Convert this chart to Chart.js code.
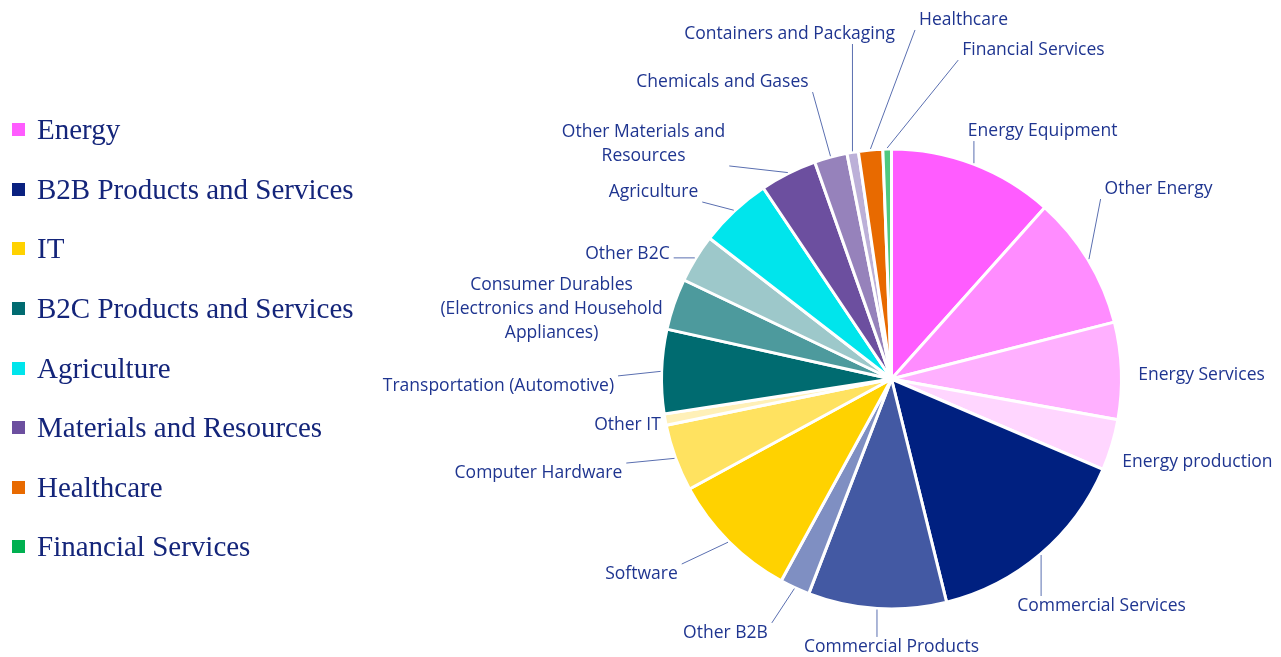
<!DOCTYPE html>
<html lang="en">
<head>
    <meta charset="UTF-8">
    <title>Sector breakdown</title>
    <script src="https://cdn.jsdelivr.net/npm/chart.js"></script>
    <style>
        body{
            margin: 0;
            background: #fff;
        }
        .wrap{
            position: relative;
            width: 1281px;
            height: 657px;
        }
        #legend{
            position: absolute;
            left: 12px;
            top: 100px;
            margin: 0;
            padding: 0;
            list-style: none;
            font-family: "Liberation Serif", "DejaVu Serif", serif;
            font-size: 29px;
            color: #14257a;
        }
        #legend li{
            height: 59.6px;
            display: flex;
            align-items: center;
            white-space: nowrap;
        }
        #legend span{
            display: inline-block;
            width: 13px;
            height: 13px;
            margin-right: 12px;
        }
    </style>
</head>
<body>
    <div class="wrap">
        <ul id="legend"></ul>
        <canvas id="sectorPie" width="1281" height="657"></canvas>
    </div>

    <script>
        // Sectors (slices), clockwise from 12 o'clock
        const sectors = [
            'Energy Equipment', 'Other Energy', 'Energy Services', 'Energy production',
            'Commercial Services', 'Commercial Products', 'Other B2B',
            'Software', 'Computer Hardware', 'Other IT',
            'Transportation (Automotive)', 'Consumer Durables (Electronics and Household Appliances)', 'Other B2C',
            'Agriculture',
            'Other Materials and Resources', 'Chemicals and Gases', 'Containers and Packaging',
            'Healthcare',
            'Financial Services'
        ];
        const shares = [11.6, 9.4, 6.8, 3.6, 14.7, 9.7, 2.1, 9.1, 4.7, 0.8, 5.9, 3.6, 3.4, 5.1, 4.0, 2.3, 0.8, 1.7, 0.6];
        const sliceColors = [
            '#ff5cff', '#ff8cff', '#ffb0ff', '#ffd6ff',
            '#002080', '#4359a3', '#7f8fc2',
            '#ffd200', '#ffe260', '#fff0b8',
            '#006b70', '#4d9a9d', '#9dc8ca',
            '#00e5ec',
            '#6c4f9f', '#9682bb', '#bcb0d8',
            '#e86a00',
            '#4fc97f'
        ];

        // Sector groups for the legend
        const groups = ['Energy', 'B2B Products and Services', 'IT', 'B2C Products and Services',
            'Agriculture', 'Materials and Resources', 'Healthcare', 'Financial Services'];
        const groupColors = ['#ff5cff', '#0a2180', '#ffd200', '#006b70', '#00e5ec', '#6c4f9f', '#e86a00', '#00b050'];

        // label text lines and where labels sit, in units of the radius from the pie centre
        const labelLines = [
            ['Energy Equipment'], ['Other Energy'], ['Energy Services'], ['Energy production'],
            ['Commercial Services'], ['Commercial Products'], ['Other B2B'],
            ['Software'], ['Computer Hardware'], ['Other IT'],
            ['Transportation (Automotive)'], ['Consumer Durables', '(Electronics and Household', 'Appliances)'], ['Other B2C'],
            ['Agriculture'],
            ['Other Materials and', 'Resources'], ['Chemicals and Gases'], ['Containers and Packaging'],
            ['Healthcare'],
            ['Financial Services']
        ];
        const labelPos = [
            [0.657, -1.078], [1.161, -0.826], [1.348, -0.017], [1.330, 0.361],
            [0.913, 0.987], [0, 1.165], [-0.722, 1.104],
            [-1.087, 0.848], [-1.535, 0.409], [-1.148, 0.200],
            [-1.709, 0.030], [-1.478, -0.304], [-1.148, -0.543],
            [-1.035, -0.813],
            [-1.078, -1.022], [-0.735, -1.291], [-0.443, -1.500],
            [0.313, -1.561],
            [0.617, -1.430]
        ];

        // legend
        const legendEl = document.getElementById('legend');
        groups.forEach((g, i) => {
            const li = document.createElement('li');
            const sw = document.createElement('span');
            sw.style.background = groupColors[i];
            li.appendChild(sw);
            li.appendChild(document.createTextNode(g));
            legendEl.appendChild(li);
        });

        // outside labels with leader lines
        const leaderLabels = {
            id: 'leaderLabels',
            afterDatasetsDraw(chart) {
                const ctx = chart.ctx;
                const meta = chart.getDatasetMeta(0);
                const lineH = 24;
                ctx.save();
                ctx.font = '17.5px "Open Sans", "Liberation Sans", sans-serif';
                ctx.textAlign = 'center';
                ctx.textBaseline = 'middle';
                meta.data.forEach((arc, i) => {
                    const p = arc.getProps(['x', 'y', 'startAngle', 'endAngle', 'outerRadius'], true);
                    const r = p.outerRadius;
                    const mid = (p.startAngle + p.endAngle) / 2;
                    const ax = p.x + Math.cos(mid) * (r + 1);
                    const ay = p.y + Math.sin(mid) * (r + 1);
                    const lines = labelLines[i];
                    const lx = p.x + labelPos[i][0] * r;
                    const ly = p.y + labelPos[i][1] * r;
                    const w = Math.max(...lines.map(t => ctx.measureText(t).width));
                    const h = lines.length * lineH;
                    const x0 = lx - w / 2 - 4, x1 = lx + w / 2 + 4;
                    const y0 = ly - h / 2 + 2, y1 = ly + h / 2 - 2;
                    const tx = Math.min(Math.max(ax, x0), x1);
                    const ty = Math.min(Math.max(ay, y0), y1);
                    if (Math.hypot(tx - ax, ty - ay) > 14) {
                        ctx.strokeStyle = '#5a6fb0';
                        ctx.lineWidth = 1;
                        ctx.beginPath();
                        ctx.moveTo(ax, ay);
                        ctx.lineTo(tx, ty);
                        ctx.stroke();
                    }
                    ctx.fillStyle = '#1f3590';
                    lines.forEach((t, k) => {
                        ctx.fillText(t, lx, ly - h / 2 + lineH * (k + 0.5));
                    });
                });
                ctx.restore();
            }
        };

        new Chart(document.getElementById('sectorPie'), {
            type: 'pie',
            data: {
                labels: sectors,
                datasets: [{
                    data: shares,
                    backgroundColor: sliceColors,
                    borderColor: '#ffffff',
                    borderWidth: 3
                }]
            },
            options: {
                responsive: false,
                animation: false,
                layout: {
                    padding: { left: 660, right: 158, top: 147, bottom: 46 }
                },
                plugins: {
                    legend: { display: false },
                    tooltip: { enabled: false }
                }
            },
            plugins: [leaderLabels]
        });
    </script>
</body>
</html>
